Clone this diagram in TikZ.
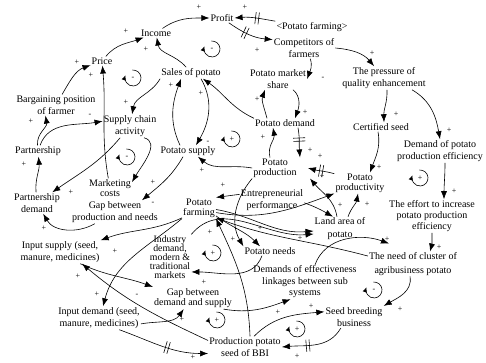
\documentclass[tikz,border=0pt]{standalone}
\usepackage{fontspec}
\setmainfont{Liberation Serif}
\usepackage{tikz}
\usetikzlibrary{arrows.meta}
\usetikzlibrary{decorations.markings}
\tikzset{
  var/.style={align=center, inner sep=1pt, font=\fontsize{10}{12}\selectfont},
  vtight/.style={var, font=\fontsize{10}{10}\selectfont},
  cl/.style={-{Latex[length=8pt,width=6pt]}, line width=0.6pt},
  sgn/.style={inner sep=0pt, font=\fontsize{8}{8}\selectfont},
  dbar/.style={postaction={decorate,decoration={markings,mark=at position #1 with {\draw[-,line width=0.6pt] (-1.6pt,-6pt) -- (-1.6pt,6pt) (1.6pt,-6pt) -- (1.6pt,6pt);}}}},
  dbar/.default=0.5
}
% loop marker: name, x, y, sign
\newcommand{\fbloop}[4]{%
  \draw[-{Latex[length=5pt,width=4.5pt]},line width=0.6pt] (#2,#3) ++(95:8pt) arc[start angle=95,end angle=-200,radius=8pt];
  \node[sgn] (#1) at (#2,#3) {#4};
}

\begin{document}
\begin{tikzpicture}[x=1pt,y=1pt]
\useasboundingbox (0,0) rectangle (486,-363);

%% variables
\node[var] (profit) at (222,-18) {Profit};
\node[var] (pfarmS) at (312,-27) {\textless Potato farming\textgreater};
\node[var] (income) at (156,-33) {Income};
\node[var] (compet) at (304,-48) {Competitors of\\farmers};
\node[var] (price) at (102,-61) {Price};
\node[var] (sales) at (191,-73) {Sales of potato};
\node[var] (mshare) at (278,-79) {Potato market\\share};
\node[var] (pressure) at (384,-78) {The pressure of\\quality enhancement};
\node[var] (bargain) at (56,-105) {Bargaining position\\of farmer};
\node[var] (supchain) at (130,-126) {Supply chain\\activity};
\node[var] (pdemand) at (285,-123) {Potato demand};
\node[var] (certseed) at (381,-127) {Certified seed};
\node[var] (effdem) at (440,-151) {Demand of potato\\production efficiency};
\node[var] (partner) at (38,-151) {Partnership};
\node[var] (psupply) at (188,-151) {Potato supply};
\node[vtight] (pprod) at (275,-168) {Potato\\production};
\node[vtight] (pproduct) at (360,-183) {Potato\\productivity};
\node[vtight] (mcost) at (110,-188) {Marketing\\costs};
\node[var] (pdem) at (37,-203) {Partnership\\demand};
\node[var] (gapprod) at (115,-212) {Gap between\\production and needs};
\node[vtight] (pfarm) at (199,-208) {Potato\\farming};
\node[var] (entre) at (272,-200) {Entrepreneurial\\performance};
\node[var, font=\fontsize{10}{11}\selectfont] (effort) at (432,-216) {The effort to increase\\potato production\\efficiency};
\node[var, font=\fontsize{10}{13}\selectfont] (land) at (340,-229) {Land area of\\potato};
\node[var] (pneeds) at (270,-251) {Potato needs};
\node[var] (insup) at (60,-252) {Input supply (seed,\\manure, medicines)};
\node[var, font=\fontsize{9.8}{9}\selectfont] (indus) at (170,-257) {Industry\\demand,\\modern \&\\traditional\\markets};
\node[var, font=\fontsize{10}{13.4}\selectfont] (cluster) at (413,-264) {The need of cluster of\\agribusiness potato};
\node[var, font=\fontsize{10}{11.5}\selectfont] (linkage) at (305,-282) {Demands of effectiveness\\linkages between sub\\systems};
\node[var, font=\fontsize{10}{10.7}\selectfont] (gapdem) at (193,-298) {Gap between\\demand and supply};
\node[var] (indem) at (99,-318) {Input demand (seed,\\manure, medicines)};
\node[var, font=\fontsize{10}{12.7}\selectfont] (breed) at (354,-317) {Seed breeding\\business};
\node[var] (bbi) at (245,-347) {Production potato\\seed of BBI};

%% links, upper part
\draw[cl,dbar=0.45] (pfarmS.north west) to[out=170,in=5] (profit.east);
\draw[cl,dbar=0.4] (profit) to[out=-35,in=175] (compet.165);
\draw[cl] (income) to[out=35,in=180] (profit);
\draw[cl] (price) to[out=50,in=200] (income);
\draw[cl] (sales) to[out=130,in=-80] (income);
\draw[cl] (bargain) to[out=60,in=200] (price);
\draw[cl] (mcost) to[out=100,in=-85] (price);
\draw[cl] (partner) to[out=70,in=190] (supchain.170);
\draw[cl] (partner) to[out=95,in=-80] (bargain.-135);
\draw[cl] (pdem) to[out=95,in=-85] (partner);
\draw[cl] (gapprod) to[out=-150,in=-60] (pdem);
\draw[cl] (supchain) to[out=-130,in=35] (pdem);
\draw[cl] (sales.south west) to[out=-120,in=80] (supchain);
\draw[cl] (supchain.-40) to[out=-15,in=60] (mcost.15);
\draw[cl] ([xshift=-8pt]psupply.north) to[out=115,in=-110] ([xshift=-10pt]sales.south);
\draw[cl] ([xshift=10pt]sales.south) to[out=-60,in=60] ([xshift=8pt]psupply.north);
\draw[cl] (pdemand.north west) to[out=155,in=-35] ([xshift=12pt]sales.south);
\draw[cl] (compet.-60) to[out=-70,in=70] (mshare.east);
\draw[cl] (compet.east) to[out=-5,in=130] (pressure);
\draw[cl] ([xshift=15pt]mshare.south) to[out=-40,in=70] ([xshift=10pt]pdemand.north);
\draw[cl] ([xshift=-18pt]pdemand.north) to[out=105,in=-110] ([xshift=-13pt]mshare.south);
\draw[cl] ([xshift=3pt]pressure.south) to[out=-88,in=92] ([xshift=3pt]certseed.north);
\draw[cl] ([xshift=28pt]pressure.south) to[out=-30,in=100] (effdem.north);
\draw[cl] ([xshift=5pt]effdem.south) to[out=-90,in=90] ([xshift=12pt]effort.north);
\draw[cl] (effort.south) to[out=-90,in=75] ([xshift=17pt]cluster.north);
\draw[cl] ([xshift=-3pt]cluster.south) to[out=-80,in=30] (breed.north east);
\draw[cl] ([xshift=-3pt]certseed.south) to[out=-80,in=70] ([xshift=10pt]pproduct.north);

%% links round potato production and farming
\draw[cl,dbar] (pproduct.160) to[out=165,in=-15] ([xshift=10pt]pprod.east);
\draw[cl,dbar=0.4] ([xshift=13pt]pdemand.south) to[out=-80,in=95] ([xshift=25pt]pprod.north);
\draw[cl] ([xshift=-5pt]pprod.north) to[out=105,in=-80] ([xshift=-12pt]pdemand.south);
\draw[cl] (pprod.west) to[out=170,in=-40] ([xshift=10pt]psupply.south);
\draw[cl] (pprod.south west) to[out=-130,in=120] (pneeds.north west);
\draw[cl] (entre.170) -- (pfarm.north east);
\draw[cl] (entre.-5) to[out=-20,in=150] ([xshift=-7pt]land.north);
\draw[cl] ([xshift=-3pt]land.north) to[out=100,in=-50] ([xshift=35pt]pprod.south);
\draw[cl] ([xshift=8pt]land.north) to[out=70,in=-100] ([xshift=-2pt]pproduct.south);
\draw[cl] (pfarm.-5) to[out=-10,in=185] ([yshift=-2pt]land.west);
\draw[cl] (pfarm.-15) to[out=-10,in=200] (pproduct.south west);
\draw[cl] (pfarm.-25) to[out=-35,in=135] ([xshift=-10pt]pneeds.north);
\draw[cl] (cluster.170) to[out=165,in=-20] (pfarm.-30);
\draw[cl] ([xshift=5pt]bbi.north) to[out=92,in=-65] (pfarm.south east);
\draw[cl] (indus.north east) to[out=50,in=185] ([yshift=-5pt]land.west);
\draw[cl] ([xshift=-8pt]pneeds.south) to[out=-110,in=0] (indus.-35);
\draw[cl] ([xshift=-5pt]psupply.south) to[out=-120,in=40] ([xshift=27pt]gapprod.north);

%% links, lower part
\draw[cl] (pfarm.-150) to[out=-155,in=20] (insup.north east);
\draw[cl] (pfarm.south west) to[out=-140,in=75] ([xshift=4pt]indem.north);
\draw[cl] (insup.-30) to[out=-25,in=160] (gapdem.north west);
\draw[cl] (bbi.170) to[out=155,in=-40] ([xshift=22pt]insup.south);
\draw[cl] (indem.-8) to[out=10,in=-125] (gapdem.-130);
\draw[cl,dbar=0.55] (indem.-30) to[out=-20,in=180] (bbi.-170);
\draw[cl,dbar=0.6] (breed.-140) to[out=-120,in=5] (bbi.east);
\draw[cl] (bbi.50) to[out=45,in=185] (breed.170);
\draw[cl] (gapdem.-20) to[out=-10,in=200] (linkage.-130);
\draw[cl] (linkage.60) to[out=70,in=160] ([xshift=-24pt,yshift=8pt]cluster.north);

%% polarities
\foreach \sx/\sy/\s [count=\i] in {245/7/+, 257/50/+, 199/7/+, 126/31/+, 146/49/+, 77/62/+, 91/75/+, 90/115/-, 31/121/+, 24/164/+, 44/228/+, 71/192/+, 126/102/+, 153/182/+, 171/85/+, 208/142/-, 201/93/+, 323/78/-, 372/53/+, 305/112/+, 257/99/+, 396/114/+, 449/130/+, 454/191/+, 439/247/+, 400/309/+, 379/167/+, 320/156/+, 310/150/+, 263/137/+, 202/170/+, 223/185/+, 340/205/+, 322/176/+, 367/204/+, 260/228/+, 300/238/+, 210/232/+, 233/239/+, 204/282/+, 115/251/+, 97/294/+, 137/295/-, 78/276/+, 182/319/+, 193/357/+, 297/356/+, 311/306/+, 278/312/+, 387/239/+, 153/203/-}
  \node[sgn] (s\i) at (\sx,-\sy) {\s};

%% loops
\fbloop{lA}{133}{-78}{-}
\fbloop{lB}{212}{-49}{-}
\fbloop{lC}{127}{-157}{-}
\fbloop{lD}{232}{-139}{+}
\fbloop{lE}{420}{-178}{+}
\fbloop{lF}{213}{-253}{+}
\fbloop{lG}{217}{-320}{+}
\fbloop{lH}{374}{-290}{-}
\fbloop{lI}{297}{-329}{+}
\end{tikzpicture}
\end{document}
